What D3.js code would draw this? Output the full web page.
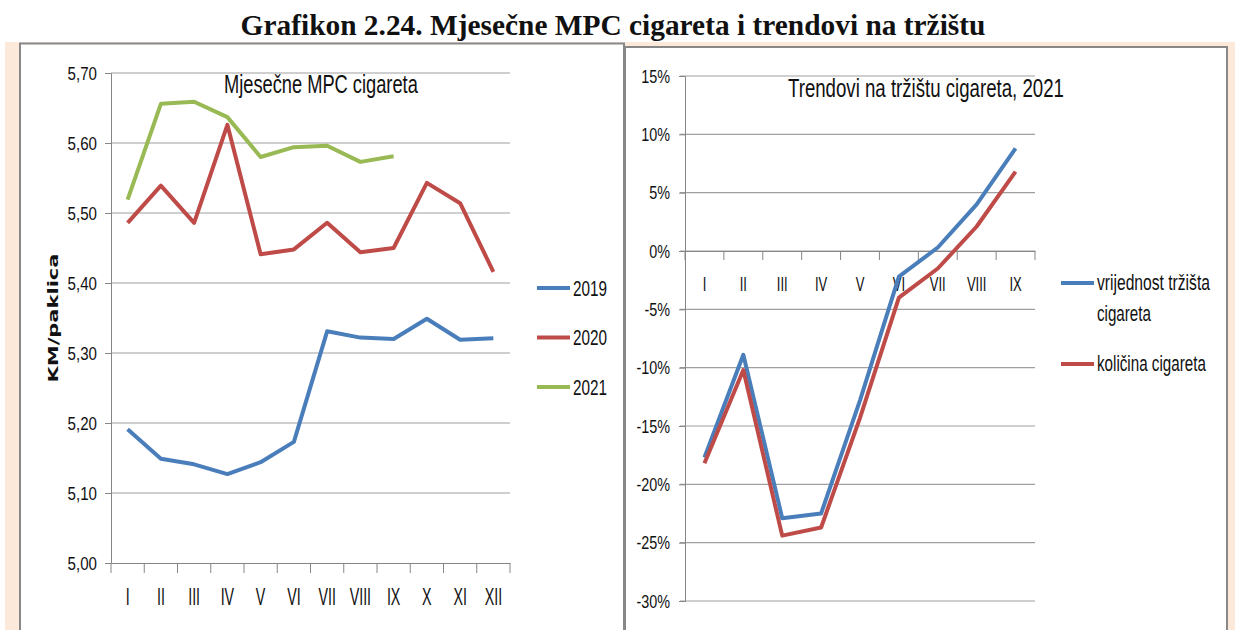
<!DOCTYPE html>
<html>
<head>
<meta charset="utf-8">
<script src="https://cdn.jsdelivr.net/npm/d3@7"></script>
<style>
  body { margin: 0; background: #fff; }
  text { font-family: "Liberation Sans", Arial, sans-serif; fill: #111; }
</style>
</head>
<body>
<div id="chart"></div>
<script>
// left chart: monthly retail price
var months = ["I", "II", "III", "IV", "V", "VI", "VII", "VIII", "IX", "X", "XI", "XII"];
var price2019 = [5.191, 5.149, 5.141, 5.127, 5.144, 5.173, 5.331, 5.322, 5.320, 5.349, 5.319, 5.321];
var price2020 = [5.486, 5.539, 5.486, 5.626, 5.441, 5.448, 5.486, 5.444, 5.450, 5.543, 5.514, 5.416];
var price2021 = [5.519, 5.656, 5.659, 5.637, 5.580, 5.594, 5.596, 5.573, 5.581];
var priceTicks = [5.0, 5.1, 5.2, 5.3, 5.4, 5.5, 5.6, 5.7];

// right chart: market trends 2021 (%)
var months9 = ["I", "II", "III", "IV", "V", "VI", "VII", "VIII", "IX"];
var marketValue = [-17.7, -8.9, -22.9, -22.5, -12.8, -2.2, 0.3, 4.0, 8.8];
var marketVolume = [-18.2, -10.2, -24.4, -23.7, -14.3, -4.0, -1.5, 2.1, 6.8];
var pctTicks = [-30, -25, -20, -15, -10, -5, 0, 5, 10, 15];

var blue = "#4a7ebb", red = "#be4b48", green = "#98b954";
var gridColor = "#a0a0a0", axisColor = "#868686";

var width = 1235, height = 630;

var svg = d3.select("#chart").append("svg")
  .attr("width", width)
  .attr("height", height);

svg.append("rect").attr("width", width).attr("height", height).attr("fill", "#fff");

// the source chart text is narrow (squeezed sideways), so squeeze ours too
function squeeze(sel, k) {
  sel.each(function () {
    var t = d3.select(this);
    var x = +t.attr("x") || 0;
    t.attr("transform", "translate(" + x + ",0) scale(" + k + ",1) translate(" + (-x) + ",0)");
  });
}
// squeeze a single text so it ends up w pixels wide
function fit(t, w) {
  var k = w / t.node().getComputedTextLength();
  t.call(squeeze, k);
  return t;
}

svg.append("text")
  .attr("x", 613).attr("y", 35)
  .attr("text-anchor", "middle")
  .style("font-family", "'Liberation Serif', 'Times New Roman', serif")
  .style("font-weight", "bold")
  .style("font-size", "29px")
  .text("Grafikon 2.24. Mjesečne MPC cigareta i trendovi na tržištu")
  .call(fit, 745);

// peach background and panel frames
svg.append("rect").attr("x", 5).attr("y", 42).attr("width", 1230).attr("height", 600).attr("fill", "#fde9da");
svg.append("rect").attr("x", 20).attr("y", 43.5).attr("width", 604).attr("height", 600)
  .attr("fill", "#fff").attr("stroke", "#888").attr("stroke-width", 2);
svg.append("rect").attr("x", 625).attr("y", 47).attr("width", 602).attr("height", 600)
  .attr("fill", "#fff").attr("stroke", "#888").attr("stroke-width", 2);

// ---------- left chart ----------
var x1 = d3.scaleBand().domain(months).range([111, 510]);
var y1 = d3.scaleLinear().domain([5.0, 5.7]).range([563, 73]);
var fmt1 = function (d) { return d3.format(".2f")(d).replace(".", ","); };

var left = svg.append("g");

left.selectAll("line.grid").data(priceTicks.slice(1)).enter().append("line")
  .attr("x1", 111).attr("x2", 510)
  .attr("y1", function (d) { return y1(d); }).attr("y2", function (d) { return y1(d); })
  .attr("stroke", gridColor).attr("stroke-width", 1.2);

var yAxis1 = left.append("g").attr("transform", "translate(111,0)")
  .call(d3.axisLeft(y1).tickValues(priceTicks).tickFormat(fmt1).tickSize(6).tickPadding(8));
yAxis1.select(".domain").attr("stroke", axisColor);
yAxis1.selectAll(".tick line").attr("stroke", axisColor);
yAxis1.selectAll(".tick text").style("font-size", "18px").attr("dy", "0.35em").call(squeeze, 0.84);

var xAxis1 = left.append("g").attr("transform", "translate(0,563)")
  .call(d3.axisBottom(x1).tickSize(0).tickPadding(26));
xAxis1.select(".domain").attr("stroke", axisColor).attr("stroke-width", 1.2);
xAxis1.selectAll(".tick text").style("font-size", "23px").call(squeeze, 0.62);
left.selectAll("line.xt").data(months.concat(["end"])).enter().append("line")
  .attr("x1", function (d, i) { return 111 + i * x1.step(); })
  .attr("x2", function (d, i) { return 111 + i * x1.step(); })
  .attr("y1", 563).attr("y2", 573)
  .attr("stroke", axisColor);

var line1 = d3.line()
  .x(function (d, i) { return x1(months[i]) + x1.bandwidth() / 2; })
  .y(function (d) { return y1(d); });

[[price2019, blue], [price2020, red], [price2021, green]].forEach(function (s) {
  left.append("path").attr("d", line1(s[0]))
    .attr("fill", "none").attr("stroke", s[1]).attr("stroke-width", 4)
    .attr("stroke-linejoin", "round");
});

left.append("text").attr("x", 224).attr("y", 93)
  .style("font-size", "25px")
  .text("Mjesečne MPC cigareta")
  .call(fit, 194);

left.append("text")
  .attr("transform", "translate(53,318) scale(0.7,1) rotate(-90)")
  .attr("text-anchor", "middle")
  .attr("dy", "0.35em")
  .style("font-family", "'DejaVu Sans', Verdana, sans-serif")
  .style("font-weight", "bold")
  .style("font-size", "21px")
  .text("KM/paklica");

var legend1 = [["2019", blue], ["2020", red], ["2021", green]];
legend1.forEach(function (d, i) {
  var ly = 288 + i * 49.5;
  left.append("line").attr("x1", 537).attr("x2", 570).attr("y1", ly).attr("y2", ly)
    .attr("stroke", d[1]).attr("stroke-width", 4);
  left.append("text").attr("x", 573).attr("y", ly).attr("dy", "0.36em")
    .style("font-size", "22px")
    .text(d[0])
    .call(fit, 34);
});

// ---------- right chart ----------
var x2 = d3.scaleBand().domain(months9).range([685, 1035]);
var y2 = d3.scaleLinear().domain([-30, 15]).range([601, 76]);

var right = svg.append("g");

right.selectAll("line.grid").data(pctTicks).enter().append("line")
  .attr("x1", 680).attr("x2", 1035)
  .attr("y1", function (d) { return y2(d); }).attr("y2", function (d) { return y2(d); })
  .attr("stroke", gridColor).attr("stroke-width", 1.2);

var yAxis2 = right.append("g").attr("transform", "translate(685,0)")
  .call(d3.axisLeft(y2).tickValues(pctTicks).tickFormat(function (d) { return d + "%"; }).tickSize(6).tickPadding(9));
yAxis2.select(".domain").attr("stroke", axisColor);
yAxis2.selectAll(".tick line").attr("stroke", axisColor);
yAxis2.selectAll(".tick text").style("font-size", "18px").attr("dy", "0.35em").call(squeeze, 0.8);

var xAxis2 = right.append("g").attr("transform", "translate(0," + y2(0) + ")")
  .call(d3.axisBottom(x2).tickSize(0).tickPadding(25));
xAxis2.select(".domain").attr("stroke", axisColor).attr("stroke-width", 1.2);
xAxis2.selectAll(".tick text").style("font-size", "21px").call(squeeze, 0.62);
right.selectAll("line.xt").data(months9.concat(["end"])).enter().append("line")
  .attr("x1", function (d, i) { return 685 + i * x2.step(); })
  .attr("x2", function (d, i) { return 685 + i * x2.step(); })
  .attr("y1", y2(0)).attr("y2", y2(0) + 9)
  .attr("stroke", axisColor);

var line2 = d3.line()
  .x(function (d, i) { return x2(months9[i]) + x2.bandwidth() / 2; })
  .y(function (d) { return y2(d); });

[[marketValue, blue], [marketVolume, red]].forEach(function (s) {
  right.append("path").attr("d", line2(s[0]))
    .attr("fill", "none").attr("stroke", s[1]).attr("stroke-width", 4)
    .attr("stroke-linejoin", "round");
});

right.append("text").attr("x", 788).attr("y", 97)
  .style("font-size", "25px")
  .text("Trendovi na tržištu cigareta, 2021")
  .call(fit, 276);

var legend2 = [
  { lines: [["vrijednost tržišta", 113], ["cigareta", 54]], color: blue, y: 283 },
  { lines: [["količina cigareta", 109]], color: red, y: 364 }
];
legend2.forEach(function (d) {
  right.append("line").attr("x1", 1061).attr("x2", 1094).attr("y1", d.y).attr("y2", d.y)
    .attr("stroke", d.color).attr("stroke-width", 4);
  d.lines.forEach(function (l, j) {
    right.append("text").attr("x", 1097).attr("y", d.y - 1 + j * 31).attr("dy", "0.36em")
      .style("font-size", "22px")
      .text(l[0])
      .call(fit, l[1]);
  });
});
</script>
</body>
</html>
